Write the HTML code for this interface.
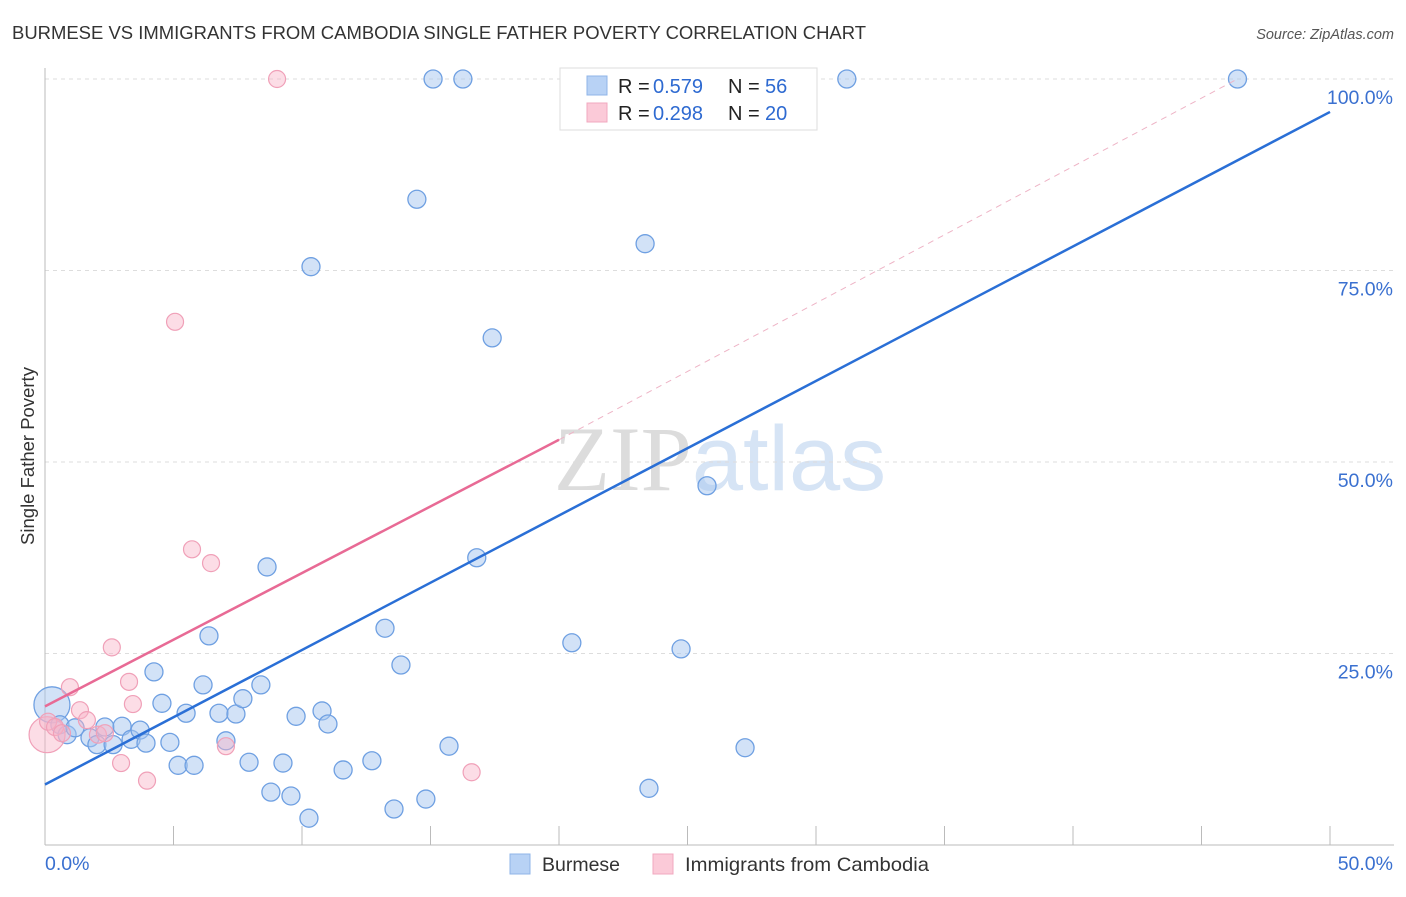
<!DOCTYPE html>
<html><head><meta charset="utf-8"><style>
body{margin:0;background:#fff;font-family:"Liberation Sans",sans-serif;}
svg text{font-family:"Liberation Sans",sans-serif;}
</style></head><body>
<svg id="chart" width="1406" height="892" xmlns="http://www.w3.org/2000/svg">
<text x="12" y="39" font-size="18.2" fill="#333" textLength="854" lengthAdjust="spacingAndGlyphs">BURMESE VS IMMIGRANTS FROM CAMBODIA SINGLE FATHER POVERTY CORRELATION CHART</text>
<text x="1394" y="39" font-size="14.5" fill="#555" text-anchor="end" font-style="italic">Source: ZipAtlas.com</text>
<text x="720" y="490" font-size="92" text-anchor="middle" fill="#e6e6e6"><tspan font-family="Liberation Serif" fill="#dcdcdc">ZIP</tspan><tspan fill="#d6e4f5">atlas</tspan></text>
<g id="grid"></g>
<g id="axes"></g>
<g id="marks"></g>
<g>
<rect x="560" y="68" width="257" height="62" fill="#fff" stroke="#ddd"/>
<rect x="587" y="76" width="20" height="19" fill="#b8d2f5" stroke="#8fb4e8"/>
<rect x="587" y="103" width="20" height="19" fill="#fbcad8" stroke="#f2a8bf"/>
<text x="618" y="93" font-size="20" fill="#222">R =</text>
<text x="653" y="93" font-size="20" fill="#2e6ad1">0.579</text>
<text x="728" y="93" font-size="20" fill="#222">N =</text>
<text x="765" y="93" font-size="20" fill="#2e6ad1">56</text>
<text x="618" y="120" font-size="20" fill="#222">R =</text>
<text x="653" y="120" font-size="20" fill="#2e6ad1">0.298</text>
<text x="728" y="120" font-size="20" fill="#222">N =</text>
<text x="765" y="120" font-size="20" fill="#2e6ad1">20</text>
</g>
<text transform="translate(34,456) rotate(-90)" font-size="18.5" fill="#333" text-anchor="middle">Single Father Poverty</text>
<g>
<rect x="510" y="854" width="20" height="20" fill="#b8d2f5" stroke="#8fb4e8"/>
<text x="542" y="871" font-size="19.5" fill="#333">Burmese</text>
<rect x="653" y="854" width="20" height="20" fill="#fbcad8" stroke="#f2a8bf"/>
<text x="685" y="871" font-size="19.5" fill="#333" textLength="244" lengthAdjust="spacingAndGlyphs">Immigrants from Cambodia</text>
</g>
</svg>
<script>
const blueX=[0.27,0.58,0.86,1.17,1.75,2.02,2.33,2.65,3.0,3.35,3.7,3.93,4.24,4.55,4.86,5.18,5.49,5.8,6.15,6.38,6.77,7.04,7.43,7.7,7.94,8.4,8.64,8.79,9.26,9.57,9.77,10.27,10.35,10.78,11.01,11.6,12.72,13.23,13.58,13.85,14.47,14.82,15.1,15.72,16.26,16.8,17.4,20.5,23.35,23.5,24.75,25.76,27.24,31.2,46.4];
const blueY=[18.3,15.7,14.4,15.3,14.0,13.1,15.4,13.1,15.5,13.8,15.0,13.3,22.6,18.5,13.4,10.4,17.2,10.4,20.9,27.3,17.2,13.6,17.1,19.1,10.8,20.9,36.3,6.9,10.7,6.4,16.8,3.5,75.5,17.5,15.8,9.8,11.0,28.3,4.7,23.5,84.3,6.0,100,12.9,100,37.5,66.2,26.4,78.5,7.4,25.6,46.9,12.7,100,100];
const pinkX=[0.08,0.12,0.39,0.66,0.97,1.36,1.63,2.06,2.33,2.6,2.96,3.27,3.42,3.97,5.06,5.72,6.46,7.04,9.03,16.6];
const pinkY=[14.4,16.1,15.4,14.6,20.6,17.6,16.3,14.4,14.6,25.8,10.7,21.3,18.4,8.4,68.3,38.6,36.8,12.9,100,9.5];
const blueTrend=[[0,7.9],[50,95.7]];
const pinkTrend=[[0,18.1],[20,52.9]];
const pinkDash=[[20,52.9],[46.4,100]];
const yTicks=[25,50,75,100];
const yTickLabels=["25.0%","50.0%","75.0%","100.0%"];
const xTicks=[5,10,15,20,25,30,35,40,45,50];
const NS="http://www.w3.org/2000/svg";
const sx=v=>45+v/50*1285, sy=v=>845-v/100*766;
function mk(parent,tag,attrs){const e=document.createElementNS(NS,tag);for(const k in attrs)e.setAttribute(k,attrs[k]);document.getElementById(parent).appendChild(e);return e;}
yTicks.forEach((t,i)=>{
 const l=mk('grid','line',{x1:45,x2:1394,y1:sy(t),y2:sy(t),stroke:'#ddd','stroke-dasharray':'4,4'});
 
 
 const tx=mk('axes','text',{x:1393,y:sy(t)+25,'font-size':19.5,fill:'#3a70d0','text-anchor':'end'});tx.textContent=yTickLabels[i];
 
 
});
mk('axes','line',{x1:45,x2:45,y1:68,y2:845,stroke:'#bbb'});
mk('axes','line',{x1:45,x2:1394,y1:845,y2:845,stroke:'#bbb'});
xTicks.forEach(t=>{const l=mk('axes','line',{x1:sx(t),x2:sx(t),y1:826,y2:845,stroke:'#bbb'});
 
 });
let a=mk('axes','text',{x:45,y:870,'font-size':19.5,fill:'#3a70d0'});a.textContent='0.0%';

a=mk('axes','text',{x:1393,y:870,'font-size':19.5,fill:'#3a70d0','text-anchor':'end'});a.textContent='50.0%';

blueX.forEach((x,i)=>{const c=mk('marks','circle',{cx:sx(x),cy:sy(blueY[i]),r:i==0?18:9,fill:'rgba(165,198,240,0.5)',stroke:'#6fa0e2','stroke-width':1.3});
 
 });
pinkX.forEach((x,i)=>{const c=mk('marks','circle',{cx:sx(x),cy:sy(pinkY[i]),r:i==0?18:8.5,fill:'rgba(248,180,200,0.45)',stroke:'#f0a0b8','stroke-width':1.2});
 
 });
let ln=mk('marks','line',{x1:sx(pinkDash[0][0]),y1:sy(pinkDash[0][1]),x2:sx(pinkDash[1][0]),y2:sy(pinkDash[1][1]),stroke:'#eeb4c6','stroke-dasharray':'6,5'});

ln=mk('marks','line',{x1:sx(pinkTrend[0][0]),y1:sy(pinkTrend[0][1]),x2:sx(pinkTrend[1][0]),y2:sy(pinkTrend[1][1]),stroke:'#e86a95','stroke-width':2.5});

ln=mk('marks','line',{x1:sx(blueTrend[0][0]),y1:sy(blueTrend[0][1]),x2:sx(blueTrend[1][0]),y2:sy(blueTrend[1][1]),stroke:'#2a6fd6','stroke-width':2.5});

</script>
</body></html>
